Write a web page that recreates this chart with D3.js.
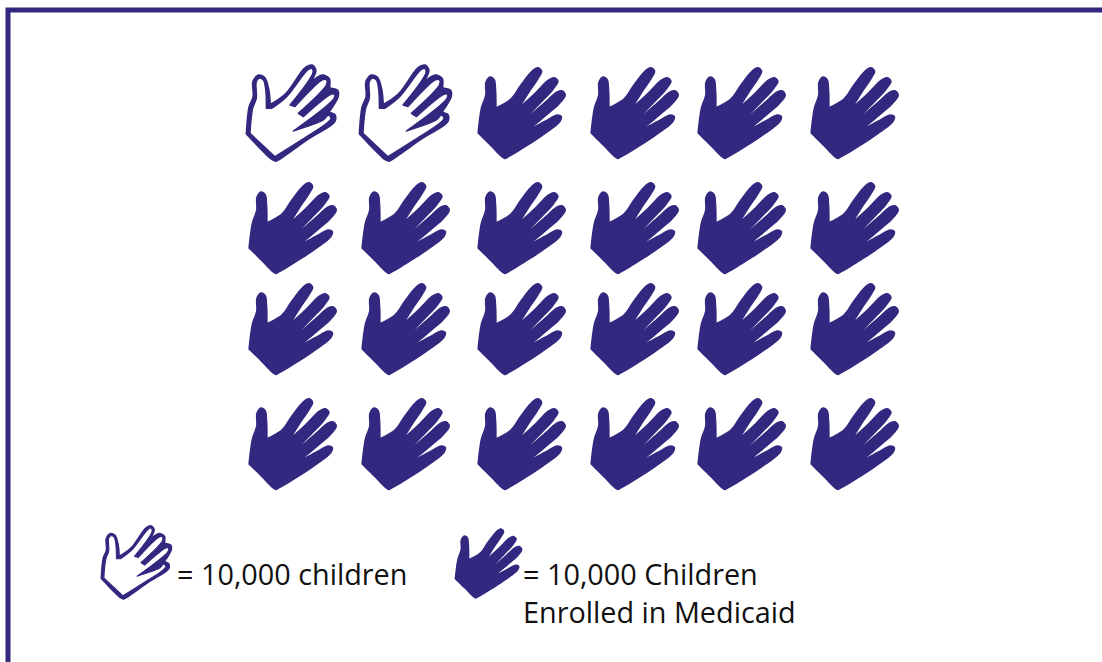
<!DOCTYPE html>
<html><head><meta charset="utf-8">
<script src="https://cdnjs.cloudflare.com/ajax/libs/d3/7.8.5/d3.min.js"></script>
<style>html,body{margin:0;padding:0;background:#fff;overflow:hidden}svg{display:block}text{font-family:"Open Sans",sans-serif;fill:#111}</style>
</head><body><svg id="c" width="1102" height="662"></svg>
<script>
// DATA: one hand = 10,000 children; 1 = enrolled in Medicaid
const rowIds = ["r1","r2","r3","r4"];
const colIds = ["c1","c2","c3","c4","c5","c6"];
const row1 = [0,0,1,1,1,1];
const row2 = [1,1,1,1,1,1];
const row3 = [1,1,1,1,1,1];
const row4 = [1,1,1,1,1,1];
const legendLine1 = "= 10,000 children";
const legendLine2 = "= 10,000 Children";
const legendLine3 = "Enrolled in Medicaid";

// Layout
const ink = "#32287f";
const x = d3.scaleOrdinal(colIds,[241,354,470,583,690,803]);
const y = d3.scaleOrdinal(rowIds,[55,170,271,386]);
const svg = d3.select("#c");

// Glyph shapes, traced at 3x: each lobe runs between two sharp corners
const solid = [
 [[106,313],[96,308],[60,272],[22,235]],
 [[22,235],[27,190],[33,155],[45,120],[46,80],[60,64],[74,72],[79,105],[80,155]],
 [[80,155],[122,130],[150,90],[190,42],[205,36],[217,48],[206,72],[180,110],[157,147]],
 [[157,147],[197,110],[235,73],[253,66],[266,78],[252,103],[216,142],[181,178]],
 [[181,178],[222,142],[262,108],[278,106],[288,120],[270,147],[230,182],[190,215]],
 [[190,215],[226,196],[262,178],[276,184],[272,200],[215,245],[122,304],[106,313]]
];
const outer = [
 [[104,321],[92,316],[14,238]],
 [[14,238],[22,155],[34,125],[34,78],[52,58],[72,65],[85,100],[90,145]],
 [[90,145],[132,115],[192,35],[214,28],[227,45],[218,72]],
 [[218,72],[244,58],[267,70],[268,97]],
 [[268,97],[292,105],[294,125],[268,170]],
 [[268,170],[284,178],[284,200],[202,255],[118,314],[104,321]]
];
const inner = [
 [[102,305],[27,235]],
 [[27,235],[35,160],[46,130],[46,80],[54,70],[67,75],[74,105],[76,160]],
 [[76,160],[92,160]],
 [[92,160],[137,125],[200,45],[212,40],[216,52],[147,150]],
 [[147,150],[162,155]],
 [[162,155],[244,75],[256,74],[257,88],[172,175]],
 [[172,175],[187,185]],
 [[187,185],[270,118],[280,118],[279,130],[157,228]],
 [[157,228],[247,195],[262,180],[270,190],[257,205],[197,245],[102,305]]
];
const curve = d3.line().curve(d3.curveCatmullRom.alpha(0.5));
const shapePath = lobes => lobes.map((l,i)=> i? curve(l).replace("M","L") : curve(l)).join("")+"Z";

function drawHand(g,enrolled){
  if(enrolled){ g.append("path").attr("d",shapePath(solid)).attr("fill",ink); }
  else {
    g.append("path").attr("d",shapePath(outer)).attr("fill",ink);
    g.append("path").attr("d",shapePath(inner)).attr("fill","#fff").attr("stroke",ink).attr("stroke-width",4).attr("stroke-linejoin","round");
  }
}

// Border
svg.append("path").attr("d",d3.line()([[1102,10],[8,10],[8,662]])).attr("fill","none").attr("stroke",ink).attr("stroke-width",5);

// Grid
[row1,row2,row3,row4].forEach((vals,ri)=>{
  vals.forEach((v,ci)=>{
    const g = svg.append("g").attr("transform",`translate(${x(colIds[ci])},${y(rowIds[ri])}) scale(${1/3})`);
    drawHand(g,v===1);
  });
});

// Legend
const l1 = svg.append("g").attr("transform","translate(97,518) scale(0.255)");
drawHand(l1,false);
const l2 = svg.append("g").attr("transform","translate(449,519) scale(0.255)");
drawHand(l2,true);
const fs = 28.8;
svg.append("text").attr("x",177).attr("y",585).attr("font-size",fs).text(legendLine1);
svg.append("text").attr("x",523).attr("y",585).attr("font-size",fs).text(legendLine2);
svg.append("text").attr("x",523).attr("y",623).attr("font-size",fs).text(legendLine3);
</script></body></html>
